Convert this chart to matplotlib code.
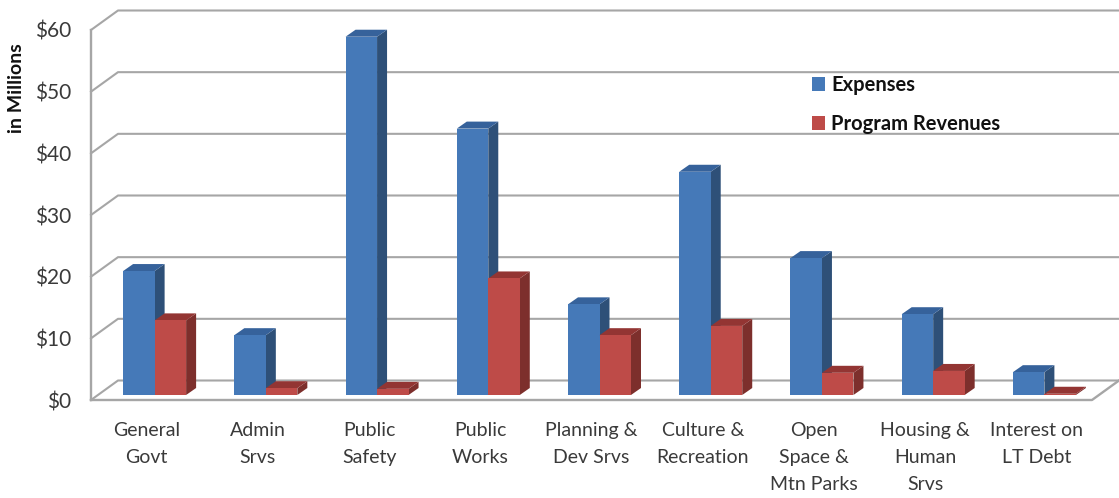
import matplotlib
matplotlib.use("Agg")
import matplotlib.pyplot as plt
from matplotlib.patches import Patch, Polygon

categories = ["General\nGovt", "Admin\nSrvs", "Public\nSafety", "Public\nWorks", "Planning &\nDev Srvs",
              "Culture &\nRecreation", "Open\nSpace &\nMtn Parks", "Housing &\nHuman\nSrvs", "Interest on\nLT Debt"]
expenses = [20.1, 9.7, 58.1, 43.2, 14.7, 36.2, 22.2, 13.1, 3.7]
revenues = [12.1, 1.1, 1.0, 18.9, 9.7, 11.2, 3.6, 3.9, 0.2]
y_ticks = [0, 10, 20, 30, 40, 50, 60]
y_labels = ["$0", "$10", "$20", "$30", "$40", "$50", "$60"]

W, H = 1119, 498
LEFT, RIGHT, BOTTOM, TOP = 91, 1092, 400, 30
GRID = "#a6a6a6"
TEXT = "#3a3a3a"
BLUE = ("#4579b8", "#2e5078", "#36629b")
RED = ("#be4b48", "#7d2f2c", "#933533")

plt.rcParams["font.family"] = ["Lato", "DejaVu Sans"]

# Umrechnung Pixel -> Datenwerte
PX_X = 9 / (RIGHT - LEFT)
PX_Y = 60 / (BOTTOM - TOP)


def balken_zeichnen(ax, x0, wert, farben):
    """Zeichnet einen Balken mit Seite und Deckel in der Schraegansicht."""
    breite = 31.5 * PX_X
    dx, dy = 10 * PX_X, 7 * PX_Y
    x0 = x0 + 8 * PX_X
    y0 = 5 * PX_Y
    y1 = y0 + wert
    x1 = x0 + breite
    ax.add_patch(Polygon([(x1, y0), (x1 + dx, y0 + dy), (x1 + dx, y1 + dy), (x1, y1)],
                         fc=farben[1], ec="none", clip_on=False))
    ax.add_patch(Polygon([(x0, y1), (x1, y1), (x1 + dx, y1 + dy), (x0 + dx, y1 + dy)],
                         fc=farben[2], ec="none", clip_on=False))
    ax.add_patch(Polygon([(x0, y0), (x1, y0), (x1, y1), (x0, y1)],
                         fc=farben[0], ec="none", clip_on=False))


def wand_zeichnen(ax):
    """Zeichnet Rueckwand-Gitter, linke Wand und Boden."""
    tx, ty = 27 * PX_X, 19.5 * PX_Y
    xmin, xmax = ax.get_xlim()
    for wert in y_ticks:
        ax.plot([xmin, xmin + tx, xmax + tx], [wert, wert + ty, wert + ty],
                color=GRID, lw=1.5, clip_on=False, zorder=0.5)
    ax.plot([xmin, xmax, xmax + tx], [0, 0, ty], color=GRID, lw=1.7, clip_on=False, zorder=0.6)
    ax.plot([xmin, xmin], [0, 60], color=GRID, lw=1.7, clip_on=False, zorder=0.6)


def main():
    fig = plt.figure(figsize=(W / 100, H / 100), dpi=100)
    ax = fig.add_axes([LEFT / W, 1 - BOTTOM / H, (RIGHT - LEFT) / W, (BOTTOM - TOP) / H])
    ax.set_xlim(-0.5, 8.5)
    ax.set_ylim(0, 60)
    for seite in ax.spines.values():
        seite.set_visible(False)
    ax.patch.set_visible(False)

    wand_zeichnen(ax)
    breite = 31.5 * PX_X
    for i in range(len(categories)):
        links = i - breite
        balken_zeichnen(ax, links, expenses[i], BLUE)
        balken_zeichnen(ax, links + breite, revenues[i], RED)

    ax.set_yticks(y_ticks)
    ax.set_yticklabels(y_labels, fontsize=15, color=TEXT)
    ax.set_xticks(range(len(categories)))
    ax.set_xticklabels(categories, fontsize=14, color=TEXT, linespacing=1.72)
    ax.tick_params(axis="y", length=0, pad=14)
    ax.tick_params(axis="x", length=0, pad=16)

    fig.text(17 / W, 1 - 88 / H, "in Millions", rotation=90, fontsize=14, fontweight="bold",
             color="#111111", ha="center", va="center")

    griffe = [Patch(fc=BLUE[0], label="Expenses"), Patch(fc=RED[0], label="Program Revenues")]
    fig.legend(handles=griffe, loc="upper left", bbox_to_anchor=(794 / W, 1 - 57 / H), frameon=False,
               prop={"size": 14.5, "weight": "bold"}, labelcolor="#111111", handlelength=0.65,
               handleheight=0.65, handletextpad=0.3, labelspacing=0.95)

    fig.savefig("out.png", dpi=100)


if __name__ == "__main__":
    main()
